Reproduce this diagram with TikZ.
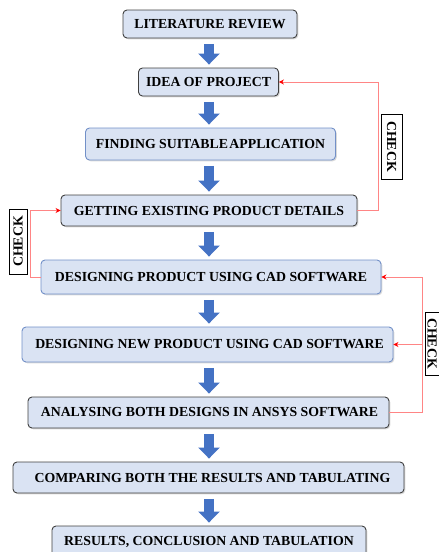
\documentclass[tikz,border=0pt]{standalone}
\usepackage{fontspec}
\setmainfont{Liberation Serif}
\usetikzlibrary{arrows.meta,calc,shadows}

\definecolor{boxfill}{HTML}{DAE3F3}
\definecolor{darkedge}{HTML}{404040}
\definecolor{blueedge}{HTML}{7290C8}
\definecolor{flowblue}{HTML}{4472C4}
\definecolor{fbline}{HTML}{FF8585}
\definecolor{fbtip}{HTML}{FF0000}

\tikzset{
  stage/.style={draw=darkedge, line width=0.9pt, fill=boxfill, rounded corners=4pt,
    font=\fontsize{13.8}{16}\selectfont\bfseries, inner sep=0pt,
    drop shadow={shadow xshift=1.3pt, shadow yshift=-1.3pt, opacity=0.3}},
  stageblue/.style={stage, draw=blueedge},
  flow/.style={draw=flowblue, line width=10pt,
    -{Triangle[width=21pt,length=11pt]}},
  feedback/.style={draw=fbline, line width=0.8pt,
    -{Stealth[length=5pt,width=5pt,fbtip]}},
  checkbox/.style={draw=black, line width=0.8pt, fill=white, inner sep=0pt,
    font=\fontsize{13.8}{16}\selectfont\bfseries}
}

\begin{document}
\begin{tikzpicture}[x=1pt, y=-1pt]
  \useasboundingbox (0,0) rectangle (439,552);
  \clip (0,0) rectangle (439,552);

  % process stages
  \node[stage, minimum width=174pt, minimum height=28pt] (lit) at (210,24) {LITERATURE REVIEW};
  \node[stage, minimum width=140pt, minimum height=28pt] (idea) at (208.5,82) {IDEA OF PROJECT};
  \node[stageblue, minimum width=250pt, minimum height=32pt] (find) at (210.5,144) {FINDING SUITABLE\kern1.5pt APPLICATION};
  \node[stage, minimum width=296pt, minimum height=31pt] (get) at (209,210.5) {GETTING EXISTING PRODUCT DETAILS};
  \node[stageblue, minimum width=340pt, minimum height=34pt] (dprod) at (211,277) {DESIGNING PRODUCT USING CAD SOFTWARE};
  \node[stageblue, minimum width=371pt, minimum height=35pt] (dnew) at (207.5,344.5) {\hspace{4pt}DESIGNING NEW PRODUCT USING CAD SOFTWARE};
  \node[stage, minimum width=361pt, minimum height=31pt] (anal) at (208.5,412.5) {\hspace{2pt}ANALYSING BOTH DESIGNS IN ANSYS SOFTWARE};
  \node[stage, minimum width=391pt, minimum height=31pt] (comp) at (208.5,477.5) {\hspace{8pt}COMPARING BOTH THE RESULTS AND TABULATING};
  \node[stage, minimum width=314pt, minimum height=31pt] (res) at (209,541.5) {RESULTS, CONCLUSION AND TABULATION};

  % main flow arrows
  \coordinate (spine) at (209,0);
  \foreach \a/\b in {lit/idea, idea/find, find/get, get/dprod, dprod/dnew, dnew/anal, anal/comp, comp/res}
    \draw[flow] ($(\a.south -| spine)+(0,5.5)$) -- ($(\b.north -| spine)+(0,-3)$);

  % feedback loops
  \coordinate (r1) at (378,0);
  \coordinate (l2) at (30,0);
  \coordinate (r3) at (422,0);
  \draw[feedback] (get.east) -- (get.east -| r1) |- (idea.east);
  \draw[feedback] (dprod.west) -- (dprod.west -| l2) |- (get.west);
  \draw[feedback] (anal.east) -- (anal.east -| r3) |- (dprod.east);
  \draw[feedback] (dnew.east -| r3) -- (dnew.east);

  % check labels
  \node[checkbox, rotate=-90, minimum width=65pt, minimum height=21pt] (chk1) at (391.5,146.5) {CHECK};
  \node[checkbox, rotate=90, minimum width=65pt, minimum height=18pt] (chk2) at (18,241.5) {CHECK};
  \node[checkbox, rotate=-90, minimum width=63pt, minimum height=14pt] (chk3) at (432,343.5) {CHECK};
\end{tikzpicture}
\end{document}
